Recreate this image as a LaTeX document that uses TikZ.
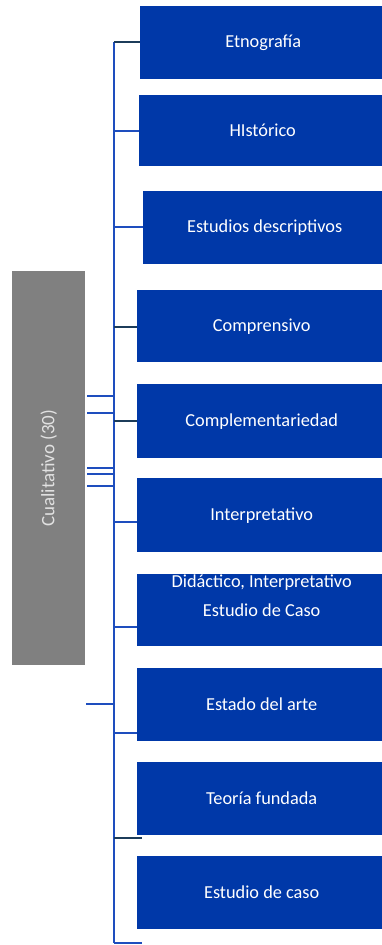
\documentclass[tikz,border=0pt]{standalone}
\usepackage{fontspec}
\setmainfont{Carlito}
\definecolor{boxblue}{RGB}{0,56,168}
\definecolor{linkblue}{RGB}{30,78,190}
\definecolor{linkdark}{RGB}{28,60,90}
\definecolor{catgray}{RGB}{128,128,128}
\definecolor{cattext}{RGB}{225,225,225}
\begin{document}
\begin{tikzpicture}[x=1pt,y=-1pt,
  itembox/.style={fill=boxblue,draw=none,inner sep=0pt,anchor=north west,
    text=white,font=\fontsize{18.3}{22}\selectfont},
  itemtext/.style={text=white,inner sep=0pt,font=\fontsize{18.3}{22}\selectfont},
  trunk/.style={draw=linkblue,line width=2pt},
  branch/.style={draw=linkblue,line width=1.6pt},
  branchdark/.style={draw=linkdark,line width=1.6pt}]
\useasboundingbox (0,0) rectangle (382,945);
% category
\node[fill=catgray,inner sep=0pt,anchor=north west,minimum width=73pt,minimum height=394pt] (cual) at (12,271) {};
\node[rotate=90,text=cattext,font=\fontsize{19}{22}\selectfont,inner sep=0pt] (cualt) at (cual.center) {Cualitativo (30)};
% items
\node[itembox,minimum width=246pt,minimum height=73pt] (b1) at (140,6) {Etnografía};
\node[itembox,minimum width=247pt,minimum height=71pt] (b2) at (139,95) {HIstórico};
\node[itembox,minimum width=243pt,minimum height=73pt] (b3) at (143,191) {Estudios descriptivos};
\node[itembox,minimum width=249pt,minimum height=72pt] (b4) at (137,290) {Comprensivo};
\node[itembox,minimum width=249pt,minimum height=74pt] (b5) at (137,384) {Complementariedad};
\node[itembox,minimum width=249pt,minimum height=74pt] (b6) at (137,478) {Interpretativo};
\node[itembox,minimum width=249pt,minimum height=72pt] (b7) at (137,574) {Estudio de Caso};
\node[itemtext] (b7t) at ([yshift=28pt]b7.center) {Didáctico, Interpretativo};
\node[itembox,minimum width=249pt,minimum height=73pt] (b8) at (137,668) {Estado del arte};
\node[itembox,minimum width=249pt,minimum height=73pt] (b9) at (137,762) {Teoría fundada};
\node[itembox,minimum width=249pt,minimum height=73pt] (b10) at (137,856) {Estudio de caso};
% trunk coordinates
\coordinate (t1) at (114,42);
\coordinate (t2) at (114,131);
\coordinate (t3) at (114,227);
\coordinate (t4) at (114,327);
\coordinate (t5) at (114,421);
\coordinate (t6) at (114,522);
\coordinate (t7) at (114,627);
\coordinate (t8) at (114,733);
\coordinate (t9) at (114,838);
\coordinate (t10) at (114,943);
\coordinate (s1) at (114,396);
\coordinate (s2) at (114,413);
\coordinate (s3) at (114,468);
\coordinate (s4) at (114,474);
\coordinate (s5) at (114,486);
\coordinate (s6) at (114,704);
\draw[trunk] (t1) -- (t10);
% branches to boxes
\draw[branchdark] (t1) -- (t1 -| b1.west);
\draw[branch] (t2) -- (t2 -| b2.west);
\draw[branch] (t3) -- (t3 -| b3.west);
\draw[branchdark] (t4) -- (t4 -| b4.west);
\draw[branchdark] (t5) -- (t5 -| b5.west);
\draw[branch] (t6) -- (t6 -| b6.west);
\draw[branch] (t7) -- (t7 -| b7.west);
\draw[branch] (t8) -- (t8 -| b8.west);
\draw[branchdark] (t9) -- ([xshift=5pt]t9 -| b9.west);
\draw[branch] (t10) -- ([xshift=5pt]t10 -| b10.west);
% stubs from category
\draw[branch] ([xshift=2pt]cual.east |- s1) -- (s1);
\draw[branch] ([xshift=2pt]cual.east |- s2) -- (s2);
\draw[branch] ([xshift=2pt]cual.east |- s3) -- (s3);
\draw[branch] ([xshift=2pt]cual.east |- s4) -- (s4);
\draw[branch] ([xshift=2pt]cual.east |- s5) -- (s5);
\draw[branch] ([xshift=1pt]cual.east |- s6) -- (s6);
\end{tikzpicture}
\end{document}
